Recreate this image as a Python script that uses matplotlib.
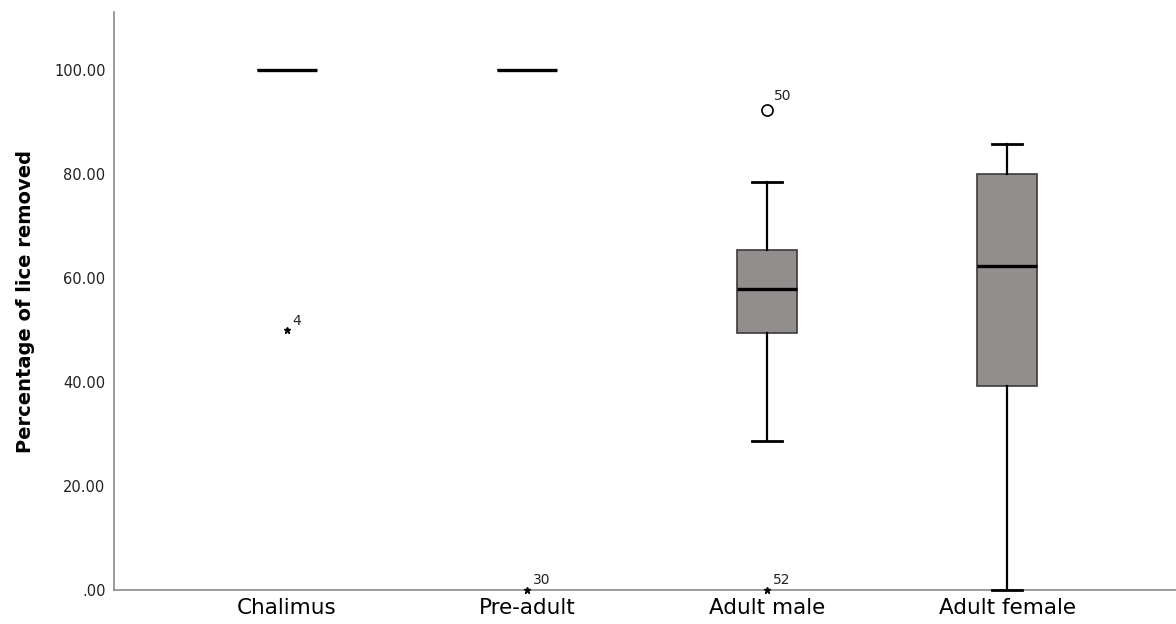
import matplotlib.pyplot as plt

# lice removal by stage (summary stats per group)
stages = ['Chalimus', 'Pre-adult', 'Adult male', 'Adult female']
q1 = [100.0, 100.0, 49.5, 39.2]
med = [100.0, 100.0, 57.9, 62.4]
q3 = [100.0, 100.0, 65.4, 80.1]
whislo = [100.0, 100.0, 28.7, 0.0]
whishi = [100.0, 100.0, 78.6, 85.8]

# outliers: (group index, value, case label)
circles = [(2, 92.4, '50')]
stars = [(0, 50.0, '4'), (1, 0.0, '30'), (2, 0.0, '52')]

fig = plt.figure(figsize=(11.76, 6.24), dpi=100)
ax = fig.add_axes([0.0969, 0.0545, 0.9031, 0.926])

stats = []
for i, name in enumerate(stages):
    stats.append({'label': name, 'q1': q1[i], 'med': med[i], 'q3': q3[i],
                  'whislo': whislo[i], 'whishi': whishi[i], 'fliers': []})

art = ax.bxp(stats, positions=range(1, 5), widths=0.25, patch_artist=True,
             showfliers=False, capwidths=0.125,
             boxprops=dict(facecolor='#928e8d', edgecolor='#3a3a3a', linewidth=1.2),
             medianprops=dict(color='black', linewidth=2.4),
             whiskerprops=dict(color='black', linewidth=1.6),
             capprops=dict(color='black', linewidth=2.0))
for c in art['caps']:
    c.set_clip_on(False)
    c.set_zorder(4)

for g, v, lab in circles:
    ax.plot(g + 1, v, 'o', mfc='white', mec='black', ms=8, mew=1.2, zorder=5)
    ax.annotate(lab, (g + 1, v), xytext=(5, 7), textcoords='offset points',
                fontsize=10, color='#222222')
for g, v, lab in stars:
    ax.plot(g + 1, v, '*', color='black', ms=5, zorder=5, clip_on=False)
    ax.annotate(lab, (g + 1, v), xytext=(4, 4), textcoords='offset points',
                fontsize=10, color='#222222')

ax.set_xlim(0.279, 4.704)
ax.set_ylim(0, 111.2)
ax.set_yticks([0, 20, 40, 60, 80, 100])
ax.set_yticklabels(['.00', '20.00', '40.00', '60.00', '80.00', '100.00'])
ax.tick_params(axis='y', length=0, pad=6, labelsize=10.5, labelcolor='#222222')
ax.tick_params(axis='x', length=0, pad=6, labelsize=15.5)
ax.set_ylabel('Percentage of lice removed', fontsize=14, fontweight='bold', labelpad=14)

for side in ['top', 'right']:
    ax.spines[side].set_visible(False)
for side in ['left', 'bottom']:
    ax.spines[side].set_color('#8a8a8a')
    ax.spines[side].set_linewidth(1.2)

fig.savefig('out.png', dpi=100)
